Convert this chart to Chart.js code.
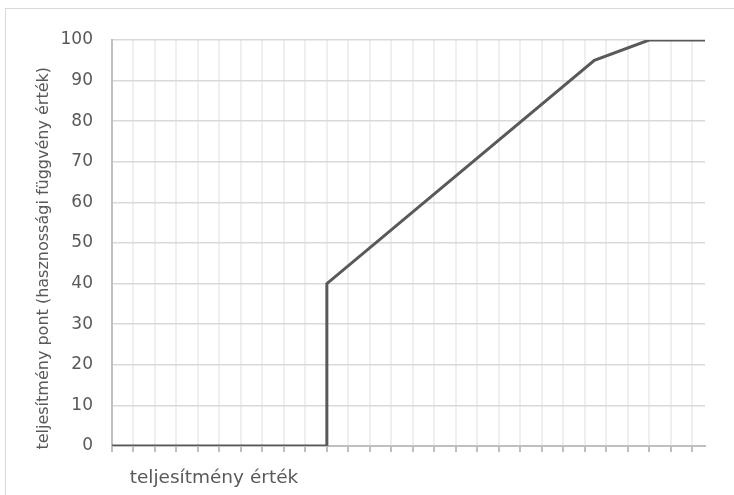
<!DOCTYPE html>
<html>
<head>
<meta charset="utf-8">
<script src="https://cdn.jsdelivr.net/npm/chart.js@4/dist/chart.umd.min.js"></script>
<style>
  html, body { margin: 0; padding: 0; background: #ffffff; overflow: hidden; }
  #wrap { position: relative; width: 734px; height: 495px; }
  #frame { position: absolute; left: 5px; top: 8px; width: 800px; height: 600px; border: 1px solid #d9d9d9; box-sizing: border-box; }
  canvas { position: absolute; left: 0; top: 0; }
</style>
</head>
<body>
<div id="wrap">
  <div id="frame"></div>
  <canvas id="c" width="734" height="495"></canvas>
</div>
<script>
// Data
const perfValues  = [0, 10, 10, 22.45, 25, 27.6];   // teljesítmény érték (x)
const scoreValues = [0, 0, 40, 95, 100, 100];       // teljesítmény pont (y)
const yTickMin = 0;
const yTickMax = 100;
const yTickStep = 10;
const xTickStep = 1;

const yTitle = 'teljesítmény pont (hasznossági függvény érték)';
const xTitle = 'teljesítmény érték';

const points = perfValues.map((x, i) => ({ x: x, y: scoreValues[i] }));

const textColor = '#595959';

new Chart(document.getElementById('c'), {
  type: 'line',
  data: {
    datasets: [{
      data: points,
      borderColor: '#595959',
      borderWidth: 3,
      pointRadius: 0,
      pointHoverRadius: 0,
      tension: 0,
      fill: false,
      borderJoinStyle: 'miter',
      borderCapStyle: 'butt'
    }]
  },
  options: {
    responsive: false,
    animation: false,
    events: [],
    layout: { padding: { left: 0, top: 40, right: 29, bottom: 0 } },
    plugins: {
      legend: { display: false },
      tooltip: { enabled: false }
    },
    scales: {
      x: {
        type: 'linear',
        min: perfValues[0],
        max: perfValues[perfValues.length - 1],
        grid: {
          color: '#efefef',
          lineWidth: 2,
          drawTicks: true,
          tickLength: 6,
          tickColor: '#bfbfbf',
          tickWidth: 2
        },
        border: { display: true, color: '#bfbfbf', width: 2 },
        ticks: {
          stepSize: xTickStep,
          includeBounds: false,
          callback: () => '',
          padding: 0
        },
        title: {
          display: true,
          text: '   ' + xTitle,
          align: 'start',
          color: textColor,
          font: { family: 'DejaVu Sans', size: 18.5 },
          padding: { top: 0, bottom: 6 }
        },
        afterFit: (s) => { s.height = 49; }
      },
      y: {
        type: 'linear',
        min: yTickMin,
        max: yTickMax,
        grid: {
          color: '#d9d9d9',
          lineWidth: 1.5,
          drawTicks: false
        },
        border: { display: true, color: '#bfbfbf', width: 2 },
        ticks: {
          stepSize: yTickStep,
          color: textColor,
          font: { family: 'DejaVu Sans', size: 17 },
          padding: 19
        },
        title: {
          display: true,
          text: yTitle + '      ',
          color: textColor,
          font: { family: 'DejaVu Sans', size: 16 },
          padding: { top: 34, bottom: 0 }
        },
        afterFit: (s) => { s.width = 112; }
      }
    }
  }
});
</script>
</body>
</html>
